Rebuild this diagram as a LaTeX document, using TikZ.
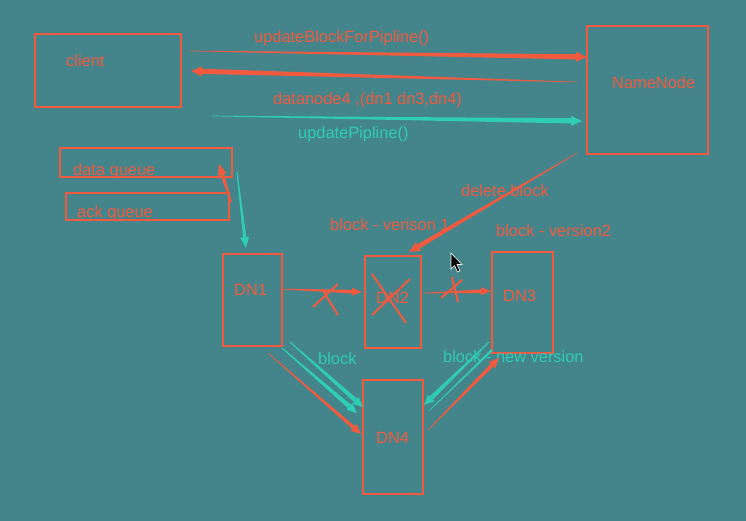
\documentclass[tikz,border=0pt]{standalone}
\usepackage{fontspec}
\setmainfont{Liberation Sans}
\usetikzlibrary{arrows.meta,calc}
\definecolor{bg}{HTML}{43858A}
\definecolor{rd}{HTML}{F25A40}
\definecolor{cy}{HTML}{2FCDB4}
% #1 colour, #2 from, #3 to, #4 half width at start, #5 half width at end, #6 head length, #7 head half width
\newcommand\tarrow[7]{%
  \coordinate (tmpc) at ($(#3)!#6!(#2)$);
  \fill[#1] ($(#2)!#4!90:(#3)$) -- ($(#2)!#4!-90:(#3)$) -- ($(tmpc)!#5!90:(#2)$) -- ($(tmpc)!#5!-90:(#2)$) -- cycle;
  \fill[#1] (#3) -- ($(tmpc)!#7!90:(#3)$) -- ($(tmpc)!#7!-90:(#3)$) -- cycle;}
\newcommand\tline[5]{%
  \fill[#1] ($(#2)!#4!90:(#3)$) -- ($(#2)!#4!-90:(#3)$) -- ($(#3)!#5!90:(#2)$) -- ($(#3)!#5!-90:(#2)$) -- cycle;}
\begin{document}
\begin{tikzpicture}[x=1pt,y=-1pt,
  box/.style={draw=rd, line width=2.8pt, inner sep=0pt},
  lbl/.style={anchor=west, inner sep=0pt, text=rd, font=\fontsize{16.4}{19}\selectfont},
  clbl/.style={lbl, text=cy},
  xmark/.style={draw=rd, line width=2pt}]
\fill[bg] (0,0) rectangle (746,521);
\useasboundingbox (0,0) rectangle (746,521);

% boxes
\node[box, minimum width=146, minimum height=73] (client) at (108,70.5) {};
\node[box, minimum width=121, minimum height=128] (namenode) at (647.5,90) {};
\node[box, minimum width=172, minimum height=29] (dataq) at (146,162.5) {};
\node[box, minimum width=163, minimum height=27] (ackq) at (147.5,206.5) {};
\node[box, minimum width=59, minimum height=92] (dn1) at (252.5,300) {};
\node[box, minimum width=56, minimum height=92] (dn2) at (393,302) {};
\node[box, minimum width=61, minimum height=101] (dn3) at (522.5,302.5) {};
\node[box, minimum width=60, minimum height=114] (dn4) at (393,437) {};

% labels
\node[lbl] (tclient) at (66,61) {client};
\node[lbl] (tnn) at (612,83) {NameNode};
\node[lbl] (tub) at (254,38) {updateBlockForPipline()};
\node[lbl] (tdn) at (273,100) {datanode4 ,(dn1 dn3,dn4)};
\node[clbl] (tup) at (298,134) {updatePipline()};
\node[lbl] (tdq) at (73,171) {data queue};
\node[lbl] (taq) at (77,213) {ack queue};
\node[lbl] (tdel) at (461,191) {delete block};
\node[lbl] (tv1) at (330,225) {block - verison 1};
\node[lbl] (tv2) at (496,231) {block - version2};
\node[lbl] (tdn1) at (234,290) {DN1};
\node[lbl] (tdn2) at (376,298) {DN2};
\node[lbl] (tdn3) at (503,296) {DN3};
\node[lbl] (tdn4) at (376,438) {DN4};
\node[clbl] (tblk) at (318,359) {block};
\node[clbl] (tnew) at (443,357) {block - new version};

% connector end points
\coordinate (a1s) at (190,51);  \coordinate (a1e) at (587,57);
\coordinate (a2s) at (577,82);  \coordinate (a2e) at (191,71);
\coordinate (a3s) at (212,116); \coordinate (a3e) at (582,121);
\coordinate (a4s) at (577,153); \coordinate (a4e) at (409,252);
\coordinate (a5s) at (231,202); \coordinate (a5e) at (219,164);
\coordinate (a6s) at (237,172); \coordinate (a6e) at (246,248);
\coordinate (a7s) at (280,289); \coordinate (a7e) at (362,292);
\coordinate (a8s) at (424,293); \coordinate (a8e) at (491,291);
\coordinate (a9s) at (290,342); \coordinate (a9e) at (363,407);
\coordinate (b9s) at (282,348); \coordinate (b9e) at (357,413);
\coordinate (a10s) at (268,353); \coordinate (a10e) at (361,434);
\coordinate (a11s) at (489,342); \coordinate (a11e) at (424,405);
\coordinate (b11s) at (492,350); \coordinate (b11e) at (429,411);
\coordinate (a12s) at (428,430); \coordinate (a12e) at (499,358);

\tarrow{rd}{a1s}{a1e}{0.3pt}{2.6pt}{11pt}{5pt}
\tarrow{rd}{a2s}{a2e}{0.3pt}{2.6pt}{11pt}{5pt}
\tarrow{cy}{a3s}{a3e}{0.3pt}{2.6pt}{11pt}{5pt}
\tarrow{rd}{a4s}{a4e}{0.3pt}{2.3pt}{11pt}{5pt}
\tarrow{rd}{a5s}{a5e}{0.8pt}{1.8pt}{11pt}{4.5pt}
\tarrow{cy}{a6s}{a6e}{0.5pt}{1.6pt}{11pt}{4.5pt}
\tarrow{rd}{a7s}{a7e}{0.3pt}{1.8pt}{10pt}{4pt}
\tarrow{rd}{a8s}{a8e}{0.3pt}{1.8pt}{10pt}{4pt}
\tarrow{cy}{a9s}{a9e}{0.5pt}{2.2pt}{10pt}{4.5pt}
\tarrow{cy}{b9s}{b9e}{0.5pt}{2.2pt}{10pt}{4.5pt}
\tarrow{rd}{a10s}{a10e}{0.3pt}{1.8pt}{10pt}{4.5pt}
\tarrow{cy}{a11s}{a11e}{0.5pt}{2.2pt}{10pt}{4.5pt}
\tline{cy}{b11s}{b11e}{1.2pt}{0.3pt}
\tarrow{rd}{a12s}{a12e}{0.3pt}{2.0pt}{10pt}{4.5pt}

% crosses
\draw[xmark] (313,307) -- (338,284);
\draw[xmark] (322,289) -- (338,315);
\draw[xmark] (441,298) -- (462,280);
\draw[xmark] (452,277) -- (458,302);
\draw[xmark] (372,274) -- (406,323);
\draw[xmark] (410,279) -- (372,315);

% mouse pointer
\fill[black, draw=white, line width=0.6pt]
  (451,253) -- (451,269) -- (454.5,265.5) -- (457.5,272) -- (460,271) -- (457,264.5) -- (462,264.5) -- cycle;
\end{tikzpicture}
\end{document}
